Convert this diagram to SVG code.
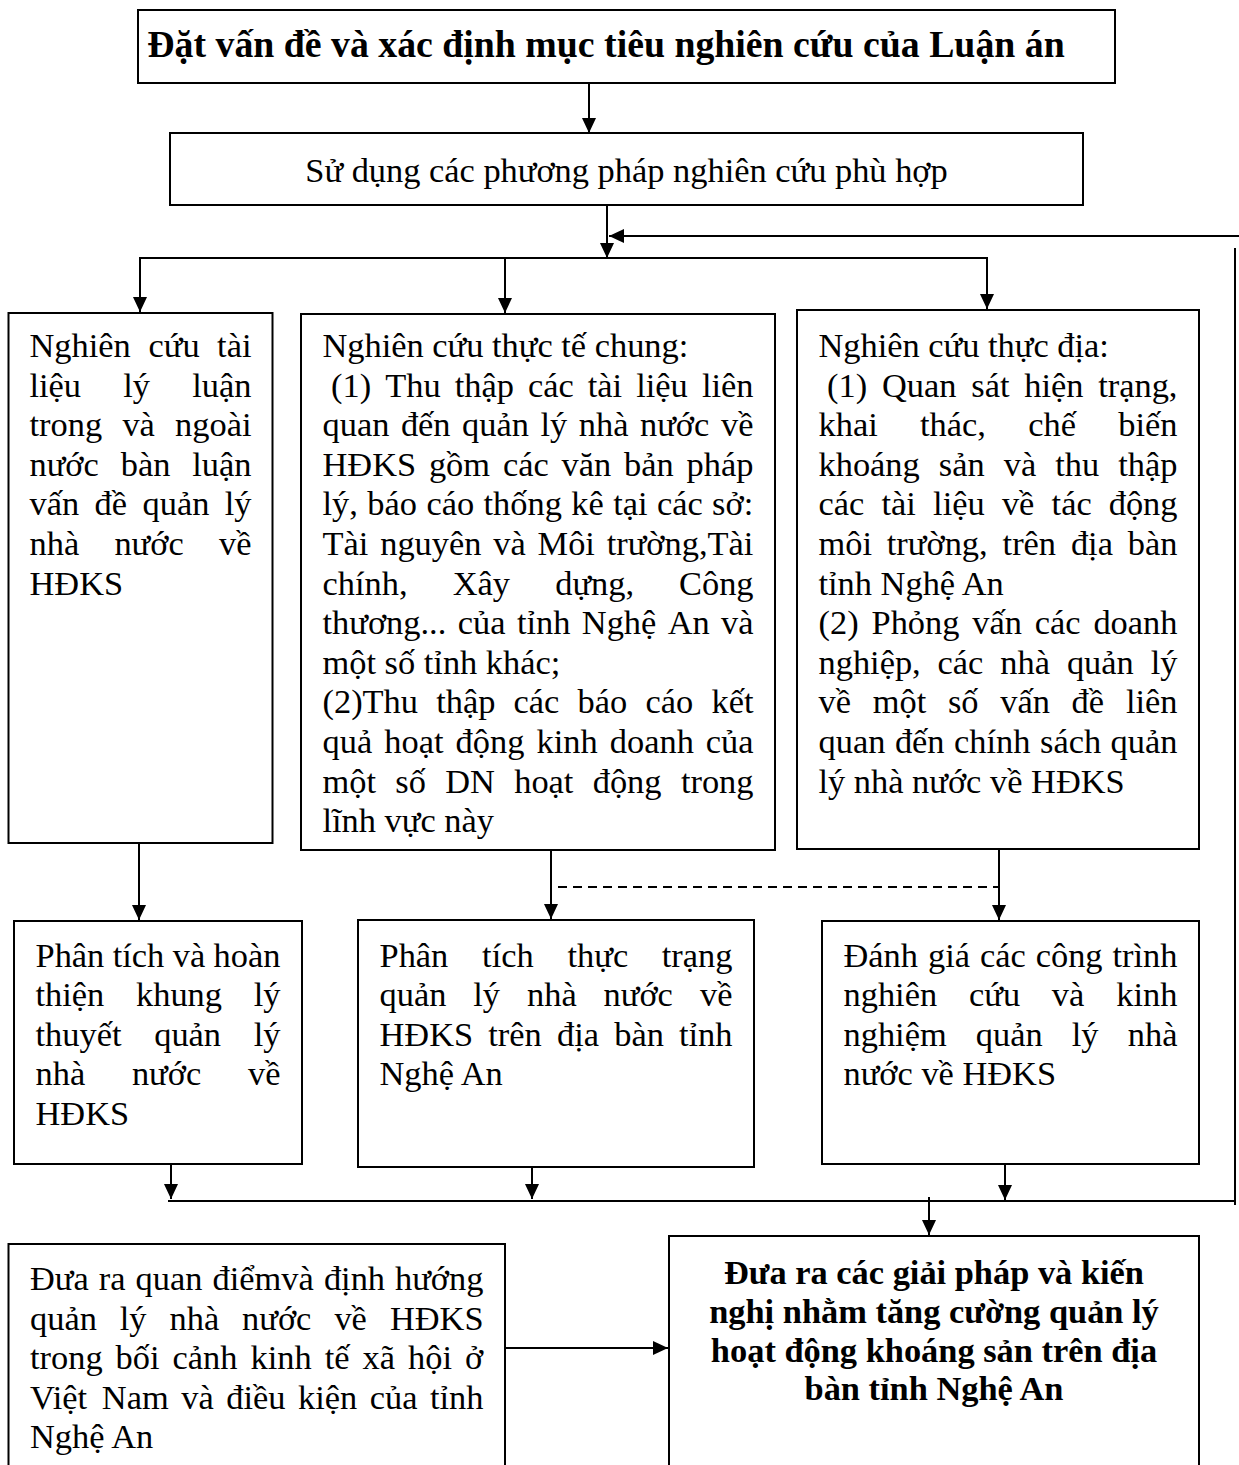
<svg xmlns="http://www.w3.org/2000/svg" width="1239" height="1465" viewBox="0 0 1239 1465">
  <style>
    .t { font-family: "Liberation Serif", "Times New Roman", serif; font-size: 34.4px; fill: #000; }
    .b { font-weight: bold; }
    .ttl { font-size: 37.8px; }
    .box { fill: #fff; stroke: #000; stroke-width: 2; }
    .ln { fill: none; stroke: #000; stroke-width: 2; }
    .arr { marker-end: url(#ah); }
    .dash { stroke-dasharray: 9 6; }
  </style>
  <defs>
    <marker id="ah" viewBox="0 0 15 14" refX="15" refY="7" markerWidth="15" markerHeight="14" markerUnits="userSpaceOnUse" orient="auto">
      <path d="M0,0 L15,7 L0,14 z" fill="#000"/>
    </marker>
  </defs>

  <rect width="1239" height="1465" fill="#fff"/>

  <!-- connectors -->
  <g id="connectors">
    <line class="ln arr" x1="589" y1="83" x2="589" y2="133"/>
    <line class="ln arr" x1="607" y1="205" x2="607" y2="258"/>
    <line class="ln arr" x1="1239" y1="236" x2="609" y2="236"/>
    <line class="ln" x1="1235" y1="248" x2="1235" y2="1205"/>
    <line class="ln" x1="139" y1="258" x2="988" y2="258"/>
    <line class="ln arr" x1="140" y1="258" x2="140" y2="312"/>
    <line class="ln arr" x1="505" y1="258" x2="505" y2="313"/>
    <line class="ln arr" x1="987" y1="258" x2="987" y2="309"/>
    <line class="ln arr" x1="139" y1="843" x2="139" y2="920"/>
    <line class="ln arr" x1="551" y1="848" x2="551" y2="919"/>
    <line class="ln arr" x1="999" y1="849" x2="999" y2="920"/>
    <line class="ln dash" x1="558" y1="887" x2="998" y2="887"/>
    <line class="ln arr" x1="171" y1="1164" x2="171" y2="1199"/>
    <line class="ln arr" x1="532" y1="1167" x2="532" y2="1199"/>
    <line class="ln arr" x1="1005" y1="1164" x2="1005" y2="1200"/>
    <line class="ln" x1="168" y1="1201" x2="1236" y2="1201"/>
    <line class="ln arr" x1="929" y1="1197" x2="929" y2="1235"/>
    <line class="ln arr" x1="505" y1="1348" x2="668" y2="1348"/>
  </g>

  <g id="n-title">
    <rect class="box" x="138" y="10" width="977" height="73" stroke-width="2.5"/>
    <text class="t b ttl" x="606" y="57" text-anchor="middle">Đặt vấn đề và xác định mục tiêu nghiên cứu của Luận án</text>
  </g>

  <g id="n-methods">
    <rect class="box" x="170" y="133" width="913" height="72"/>
    <text class="t" x="626.5" y="182" text-anchor="middle">Sử dụng các phương pháp nghiên cứu phù hợp</text>
  </g>

  <g id="n-theory-research">
    <rect class="box" x="8.5" y="313" width="264" height="530"/>
    <text class="t" y="357"><tspan x="29.5">Nghiên</tspan><tspan x="148.5">cứu</tspan><tspan x="217.1">tài</tspan></text>
    <text class="t" y="396.6"><tspan x="29.5">liệu</tspan><tspan x="123.3">lý</tspan><tspan x="192.3">luận</tspan></text>
    <text class="t" y="436.2"><tspan x="29.5">trong</tspan><tspan x="122.4">và</tspan><tspan x="175.1">ngoài</tspan></text>
    <text class="t" y="475.8"><tspan x="29.5">nước</tspan><tspan x="120.8">bàn</tspan><tspan x="192.3">luận</tspan></text>
    <text class="t" y="515.4"><tspan x="29.5">vấn</tspan><tspan x="94.6">đề</tspan><tspan x="142.5">quản</tspan><tspan x="224.7">lý</tspan></text>
    <text class="t" y="555"><tspan x="29.5">nhà</tspan><tspan x="114.4">nước</tspan><tspan x="219">về</tspan></text>
    <text class="t" x="29.5" y="594.6">HĐKS</text>
  </g>

  <g id="n-general-research">
    <rect class="box" x="301" y="314" width="474" height="536"/>
    <text class="t" x="322.5" y="357">Nghiên cứu thực tế chung:</text>
    <text class="t" y="396.6"><tspan x="331.1">(1)</tspan><tspan x="385.2">Thu</tspan><tspan x="454.7">thập</tspan><tspan x="527.9">các</tspan><tspan x="587.8">tài</tspan><tspan x="636.2">liệu</tspan><tspan x="701.9">liên</tspan></text>
    <text class="t" y="436.2"><tspan x="322.5">quan</tspan><tspan x="400.9">đến</tspan><tspan x="462.1">quản</tspan><tspan x="540.5">lý</tspan><tspan x="578.8">nhà</tspan><tspan x="640">nước</tspan><tspan x="721">về</tspan></text>
    <text class="t" y="475.8"><tspan x="322.5">HĐKS</tspan><tspan x="428.9">gồm</tspan><tspan x="502.9">các</tspan><tspan x="561.5">văn</tspan><tspan x="624">bản</tspan><tspan x="686.6">pháp</tspan></text>
    <text class="t" y="515.4"><tspan x="322.5">lý,</tspan><tspan x="367.3">báo</tspan><tspan x="426.4">cáo</tspan><tspan x="483.5">thống</tspan><tspan x="571.3">kê</tspan><tspan x="613.2">tại</tspan><tspan x="657">các</tspan><tspan x="712.1">sở:</tspan></text>
    <text class="t" y="555"><tspan x="322.5">Tài</tspan><tspan x="380.2">nguyên</tspan><tspan x="493.3">và</tspan><tspan x="537.6">Môi</tspan><tspan x="606.7">trường,Tài</tspan></text>
    <text class="t" y="594.6"><tspan x="322.5">chính,</tspan><tspan x="452.7">Xây</tspan><tspan x="555.2">dựng,</tspan><tspan x="679">Công</tspan></text>
    <text class="t" y="634.2"><tspan x="322.5">thương...</tspan><tspan x="457.8">của</tspan><tspan x="516.9">tỉnh</tspan><tspan x="581.8">Nghệ</tspan><tspan x="667.7">An</tspan><tspan x="721">và</tspan></text>
    <text class="t" x="322.5" y="673.8">một số tỉnh khác;</text>
    <text class="t" y="713.4"><tspan x="322.5">(2)Thu</tspan><tspan x="436.2">thập</tspan><tspan x="513.6">các</tspan><tspan x="577.6">báo</tspan><tspan x="645.5">cáo</tspan><tspan x="711.5">kết</tspan></text>
    <text class="t" y="753"><tspan x="322.5">quả</tspan><tspan x="384.3">hoạt</tspan><tspan x="455.6">động</tspan><tspan x="536.5">kinh</tspan><tspan x="609.8">doanh</tspan><tspan x="705.8">của</tspan></text>
    <text class="t" y="792.6"><tspan x="322.5">một</tspan><tspan x="395.3">số</tspan><tspan x="445.2">DN</tspan><tspan x="514.2">hoạt</tspan><tspan x="592.7">động</tspan><tspan x="680.9">trong</tspan></text>
    <text class="t" x="322.5" y="832.2">lĩnh vực này</text>
  </g>

  <g id="n-field-research">
    <rect class="box" x="797" y="310" width="402" height="539"/>
    <text class="t" x="818.5" y="357">Nghiên cứu thực địa:</text>
    <text class="t" y="396.6"><tspan x="827.1">(1)</tspan><tspan x="882">Quan</tspan><tspan x="971.3">sát</tspan><tspan x="1024.3">hiện</tspan><tspan x="1098.2">trạng,</tspan></text>
    <text class="t" y="436.2"><tspan x="818.5">khai</tspan><tspan x="920">thác,</tspan><tspan x="1028.2">chế</tspan><tspan x="1118.3">biến</tspan></text>
    <text class="t" y="475.8"><tspan x="818.5">khoáng</tspan><tspan x="938.8">sản</tspan><tspan x="1003.7">và</tspan><tspan x="1055.2">thu</tspan><tspan x="1118.3">thập</tspan></text>
    <text class="t" y="515.4"><tspan x="818.5">các</tspan><tspan x="881.5">tài</tspan><tspan x="933.1">liệu</tspan><tspan x="1001.9">về</tspan><tspan x="1051.6">tác</tspan><tspan x="1108.7">động</tspan></text>
    <text class="t" y="555"><tspan x="818.5">môi</tspan><tspan x="886.8">trường,</tspan><tspan x="1002.6">trên</tspan><tspan x="1070.9">địa</tspan><tspan x="1127.8">bàn</tspan></text>
    <text class="t" x="818.5" y="594.6">tỉnh Nghệ An</text>
    <text class="t" y="634.2"><tspan x="818.5">(2)</tspan><tspan x="871.5">Phỏng</tspan><tspan x="972.2">vấn</tspan><tspan x="1034.8">các</tspan><tspan x="1093.4">doanh</tspan></text>
    <text class="t" y="673.8"><tspan x="818.5">nghiệp,</tspan><tspan x="937.6">các</tspan><tspan x="1000.3">nhà</tspan><tspan x="1066.9">quản</tspan><tspan x="1150.7">lý</tspan></text>
    <text class="t" y="713.4"><tspan x="818.5">về</tspan><tspan x="872.7">một</tspan><tspan x="947.9">số</tspan><tspan x="1000.2">vấn</tspan><tspan x="1071.6">đề</tspan><tspan x="1125.9">liên</tspan></text>
    <text class="t" y="753"><tspan x="818.5">quan</tspan><tspan x="894.9">đến</tspan><tspan x="954.1">chính</tspan><tspan x="1040">sách</tspan><tspan x="1110.6">quản</tspan></text>
    <text class="t" x="818.5" y="792.6">lý nhà nước về HĐKS</text>
  </g>

  <g id="n-theory-framework">
    <rect class="box" x="14" y="921" width="288" height="243"/>
    <text class="t" y="966.5"><tspan x="35.5">Phân</tspan><tspan x="112.7">tích</tspan><tspan x="172.7">và</tspan><tspan x="213.6">hoàn</tspan></text>
    <text class="t" y="1006.1"><tspan x="35.5">thiện</tspan><tspan x="136">khung</tspan><tspan x="253.7">lý</tspan></text>
    <text class="t" y="1045.7"><tspan x="35.5">thuyết</tspan><tspan x="154.2">quản</tspan><tspan x="253.7">lý</tspan></text>
    <text class="t" y="1085.3"><tspan x="35.5">nhà</tspan><tspan x="131.9">nước</tspan><tspan x="248">về</tspan></text>
    <text class="t" x="35.5" y="1124.9">HĐKS</text>
  </g>

  <g id="n-current-state">
    <rect class="box" x="358" y="920" width="396" height="247"/>
    <text class="t" y="966.5"><tspan x="379.5">Phân</tspan><tspan x="482.1">tích</tspan><tspan x="567.5">thực</tspan><tspan x="661.8">trạng</tspan></text>
    <text class="t" y="1006.1"><tspan x="379.5">quản</tspan><tspan x="473.3">lý</tspan><tspan x="527">nhà</tspan><tspan x="603.6">nước</tspan><tspan x="700">về</tspan></text>
    <text class="t" y="1045.7"><tspan x="379.5">HĐKS</tspan><tspan x="488.3">trên</tspan><tspan x="557">địa</tspan><tspan x="614.2">bàn</tspan><tspan x="679">tỉnh</tspan></text>
    <text class="t" x="379.5" y="1085.3">Nghệ An</text>
  </g>

  <g id="n-evaluation">
    <rect class="box" x="822" y="921" width="377" height="243"/>
    <text class="t" y="966.5"><tspan x="843.5">Đánh</tspan><tspan x="928">giá</tspan><tspan x="979.9">các</tspan><tspan x="1035.7">công</tspan><tspan x="1112.5">trình</tspan></text>
    <text class="t" y="1006.1"><tspan x="843.5">nghiên</tspan><tspan x="969">cứu</tspan><tspan x="1051.8">và</tspan><tspan x="1116.3">kinh</tspan></text>
    <text class="t" y="1045.7"><tspan x="843.5">nghiệm</tspan><tspan x="975.8">quản</tspan><tspan x="1071.8">lý</tspan><tspan x="1127.8">nhà</tspan></text>
    <text class="t" x="843.5" y="1085.3">nước về HĐKS</text>
  </g>

  <g id="n-viewpoints">
    <rect class="box" x="8.5" y="1244" width="496.5" height="240"/>
    <text class="t" y="1290"><tspan x="30">Đưa</tspan><tspan x="98.7">ra</tspan><tspan x="135.5">quan</tspan><tspan x="212.5">điểmvà</tspan><tspan x="323.9">định</tspan><tspan x="395">hướng</tspan></text>
    <text class="t" y="1329.6"><tspan x="30">quản</tspan><tspan x="119.8">lý</tspan><tspan x="169.5">nhà</tspan><tspan x="242.1">nước</tspan><tspan x="334.4">về</tspan><tspan x="389.9">HĐKS</tspan></text>
    <text class="t" y="1369.2"><tspan x="30">trong</tspan><tspan x="115.6">bối</tspan><tspan x="172.6">cảnh</tspan><tspan x="250.5">kinh</tspan><tspan x="324.7">tế</tspan><tspan x="362.5">xã</tspan><tspan x="408">hội</tspan><tspan x="465">ở</tspan></text>
    <text class="t" y="1408.8"><tspan x="30">Việt</tspan><tspan x="101.8">Nam</tspan><tspan x="181.2">và</tspan><tspan x="226.3">điều</tspan><tspan x="298">kiện</tspan><tspan x="369.8">của</tspan><tspan x="430">tỉnh</tspan></text>
    <text class="t" x="30" y="1448.4">Nghệ An</text>
  </g>

  <g id="n-solutions">
    <rect class="box" x="669" y="1236" width="530" height="250"/>
    <text class="t b" text-anchor="middle" x="934" y="1284">Đưa ra các giải pháp và kiến</text>
    <text class="t b" text-anchor="middle" x="934" y="1322.8">nghị nhằm tăng cường quản lý</text>
    <text class="t b" text-anchor="middle" x="934" y="1361.6">hoạt động khoáng sản trên địa</text>
    <text class="t b" text-anchor="middle" x="934" y="1400.4">bàn tỉnh Nghệ An</text>
  </g>
</svg>
